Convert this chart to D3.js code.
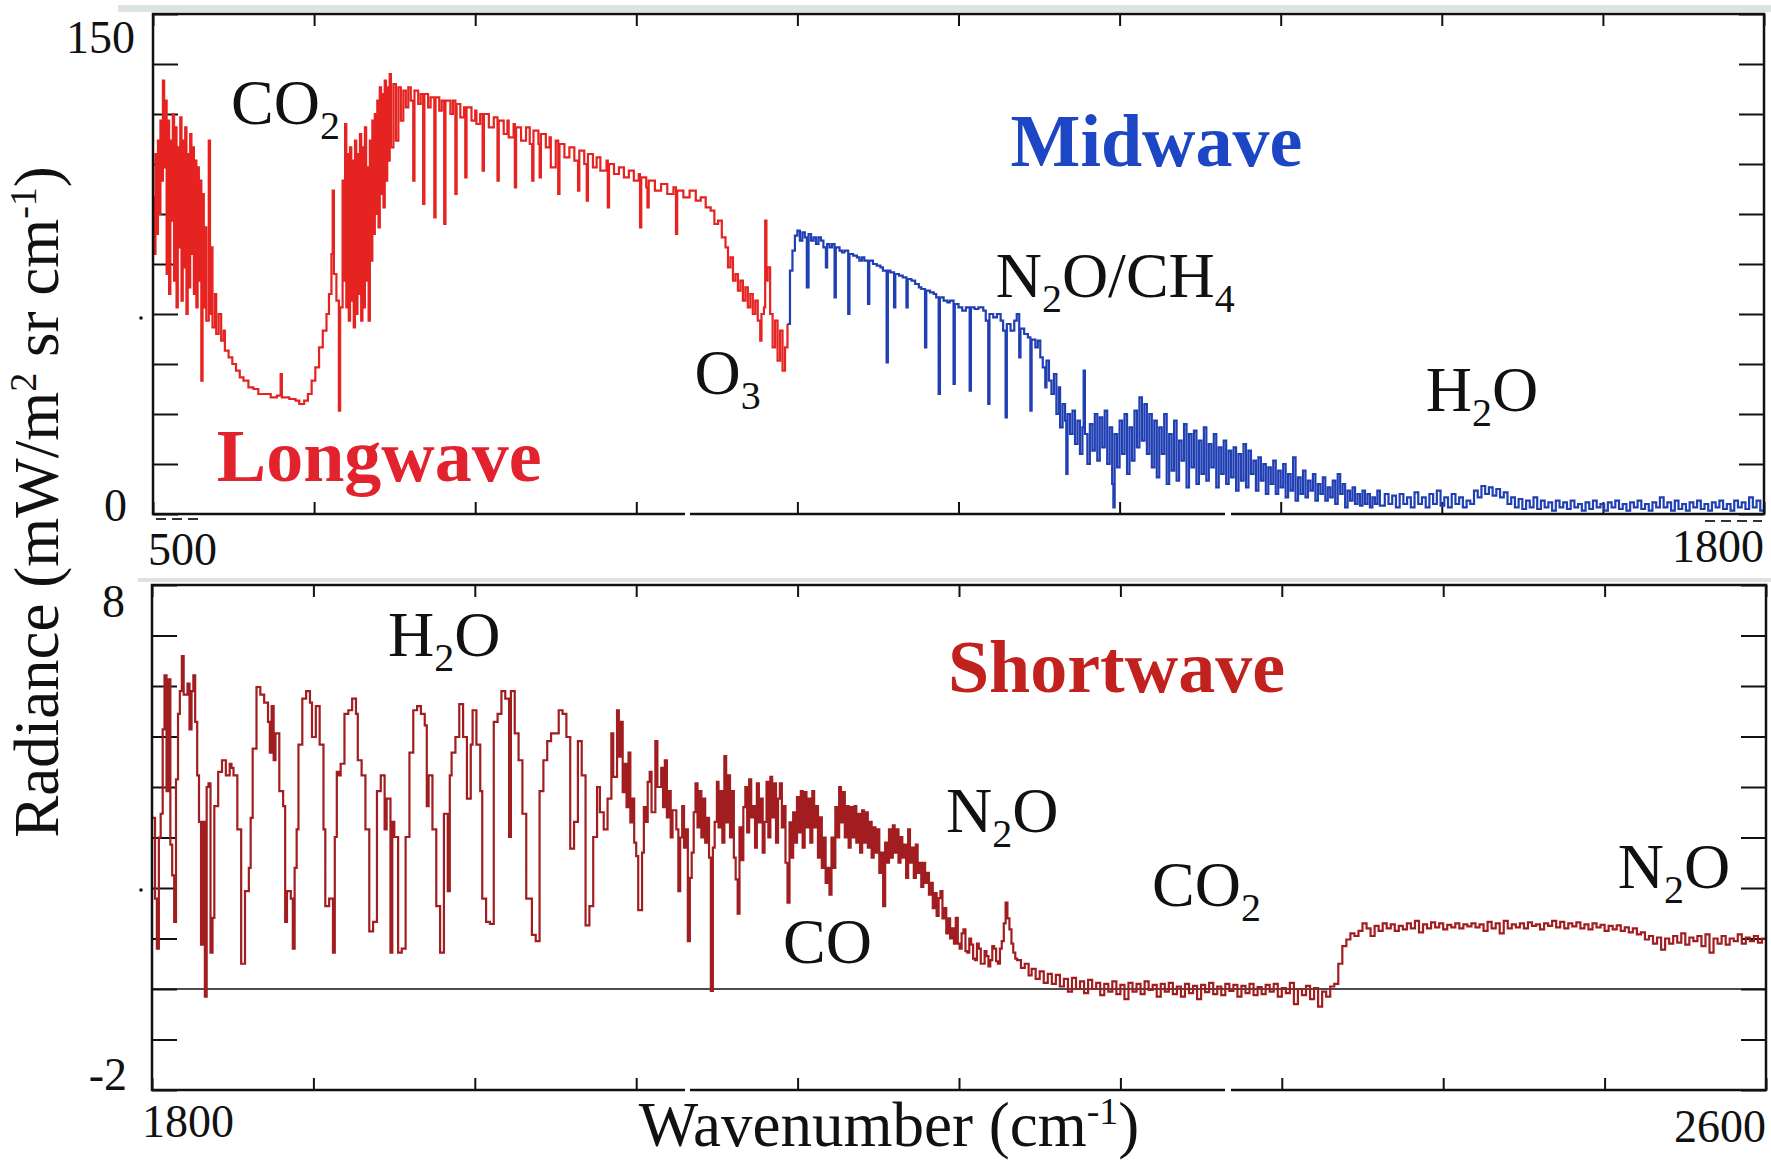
<!DOCTYPE html>
<html>
<head>
<meta charset="utf-8">
<script src="https://cdn.jsdelivr.net/npm/d3@7"></script>
<style>
  body { margin: 0; background: #fff; }
  svg { display: block; }
  text { font-family: "Liberation Serif", "Times New Roman", "DejaVu Serif", serif; }
</style>
</head>
<body>
<svg id="chart" width="1771" height="1161"></svg>
<script>
// Spectra: [wavenumber (cm-1), radiance (mW/m2 sr cm-1)]
const longwave = [
  [500,95],[501,78],[502,108],[503,84],[504,112],[505,90],[506,118],[507,100],[508,130],[509,104],[510,124],[511,72],[512,118],[513,66],
  [514,112],[515,88],[516,120],[517,70],[518,116],[519,62],[520,110],[521,80],[522,119],[523,64],[524,112],[525,74],[526,116],[527,60],
  [528,108],[529,68],[530,114],[531,78],[532,110],[533,66],[534,106],[535,62],[536,104],[537,70],[538,100],[539,40],[540,96],[541,62],
  [542,86],[543,58],[545,112],[546,60],[547,80],[548,56],[550,66],[551,54],[553,60],[555,52],[557,55],[558,49],[561,47],[564,45],
  [567,43],[570,41],[573,40],[577,38],[581,37.5],[585,36],[590,36],[595,35],[600,35.5],[603,42],[604,35],[610,34.5],[615,34],[618,33],
  [622,34],[625,36],[628,40],[631,44],[634,50],[637,55],[640,60],[642,66],[644,78],[645,97],[646,72],[648,64],[650,31],[651,62],
  [653,100],[654,70],[655,117],[656,62],[657,108],[658,58],[659,110],[660,64],[661,106],[662,56],[663,112],[664,60],[665,108],[666,66],
  [667,114],[668,58],[669,110],[670,62],[671,116],[672,70],[673,104],[674,58],[675,112],[676,76],[677,118],[678,84],[679,120],[680,90],
  [681,124],[682,86],[683,128],[684,96],[685,126],[686,92],[687,130],[688,100],[689,128],[690,106],[691,132],[692,110],[694,129],[696,112],
  [698,128],[700,118],[702,127],[704,122],[706,128],[708,124],[710,100],[711,127],[714,123],[716,126],[718,93],[719,126],[722,122],[724,125],
  [727,89],[728,125],[731,121],[733,124],[735,87],[736,124],[740,120],[742,124],[744,96],[745,123],[748,119],[751,122],[752,101],[753,122],
  [757,118],[760,121],[761,117],[764,120],[766,103],[767,120],[771,116],[775,119],[778,100],[779,118],[783,114],[786,118],[787,113],[791,117],
  [792,98],[793,116],[797,112],[801,116],[804,111],[806,100],[807,115],[811,111],[812,101],[813,114],[817,110],[820,113],[821,104],[825,112],
  [827,96],[828,111],[832,107],[836,110],[840,106],[843,97],[844,109],[848,105],[850,94],[851,108],[855,104],[858,107],[861,103],[866,106],
  [867,92],[868,105],[872,102],[876,104],[880,101],[884,103],[888,100],[892,102],[893,86],[894,101],[898,98],[899,92],[900,100],[905,97],
  [910,99],[915,96],[920,98],[922,84],[923,97],[928,95],[933,97],[938,94],[942,95],[946,92],[950,91],[953,87],[956,88],[959,83],
  [962,80],[964,74],[966,77],[968,70],[970,72],[972,67],[974,70],[976,64],[978,68],[980,62],[982,66],[984,60],[986,64],[988,58],
  [990,52],[991,60],[993,62],[994,88],[995,70],[996,74],[998,60],[1000,50],[1002,58],[1004,46],[1006,55],[1008,43],[1010,50],[1012,57]
];

const midwave = [
  [1012,57],[1014,73],[1016,79],[1018,83.5],[1020,85],[1022,82],[1024,84.5],[1026,83],[1027.6,68],[1029,84],[1031,82],[1033,83],[1035,81],
  [1037,83],[1039,82],[1041,80],[1043,74],[1044,81],[1046,80],[1048,81],[1050,65],[1051,80],[1054,79],[1056,78.5],[1058,79],[1061,60],
  [1062,78],[1065,77.5],[1068,77],[1070,76],[1072,77],[1074,76],[1077,63],[1078,76],[1081,75],[1084,74.5],[1087,74],[1089,73],[1092,45.5],
  [1093,73],[1095,72.5],[1098,62],[1099,72],[1102,71.5],[1105,71],[1108,62],[1109,70.5],[1112,70],[1115,69],[1118,68],[1120,67.5],[1123,50],
  [1124,67],[1127,66.5],[1130,66],[1132,65],[1134,36],[1135,65],[1138,64],[1141,63.5],[1143,64],[1146,39],[1147,63],[1150,62],[1153,61],
  [1156,62],[1159,37],[1160,62],[1163,61.5],[1166,62],[1170,61],[1172,58],[1174,33],[1175,60],[1178,59],[1181,60],[1184,58],[1186,55],
  [1188,29],[1189,57],[1192,55],[1195,58],[1197,60],[1199,47],[1200,55.6],[1203,54],[1206,53],[1208,31],[1209,52.3],[1212,50],[1214,52],
  [1216,47],[1218,44],[1220,38],[1221,46],[1223,40],[1225,36],[1227,42],[1229,30],[1231,38],[1232,26],[1234,33],[1236,28],[1237,12],
  [1238,30],[1240,24],[1242,31],[1244,21],[1246,28],[1248,18],[1250,26],[1251,43],[1252,24],[1254,15],[1256,27],[1258,19],[1260,30],
  [1262,16],[1264,29],[1266,20],[1268,31],[1270,15],[1272,26],[1274,9],[1275,2],[1276,24],[1278,14],[1280,28],[1282,18],[1284,30],
  [1286,12],[1288,26],[1290,16],[1292,31],[1294,20],[1296,35],[1298,22],[1300,33],[1302,18],[1304,30],[1306,14],[1308,28],[1310,11],
  [1312,26],[1314,18],[1316,30],[1318,9],[1320,24],[1322,13],[1324,28],[1326,10],[1328,22],[1330,16],[1332,27],[1334,8],[1336,24],
  [1338,14],[1340,25],[1342,9],[1344,22],[1346,12],[1348,26],[1350,10],[1352,21],[1354,14],[1356,24],[1358,8],[1360,20],[1362,12],
  [1364,22],[1366,9],[1368,19],[1370,11],[1372,20],[1374,7],[1376,18],[1378,10],[1380,21],[1382,8],[1384,19],[1386,12],[1388,16],
  [1390,7],[1392,17],[1394,10],[1396,15],[1398,6],[1400,14],[1402,9],[1404,16],[1406,6],[1408,13],[1410,8],[1412,15],[1414,5],
  [1416,12],[1418,7],[1420,17],[1422,4],[1424,11],[1426,6],[1428,13],[1430,5],[1432,10],[1434,7],[1436,12],[1438,4],[1440,9],
  [1442,6],[1444,11],[1446,4],[1448,8],[1450,5],[1452,10],[1454,3],[1456,12],[1458,6],[1460,9],[1462,2],[1464,7],[1466,4],
  [1468,8],[1470,3],[1472,6],[1474,2.5],[1476,7],[1478,3],[1480,6],[1482,2],[1484,5],[1486,3],[1488,7],[1490,2.5],[1494,6],
  [1497,3],[1500,5.5],[1503,2],[1506,6],[1509,3],[1512,5],[1515,2],[1518,6.5],[1521,3],[1524,5],[1527,2],[1530,6],[1533,3],
  [1536,7],[1539,2.5],[1542,5],[1545,2],[1548,6],[1551,3],[1554,5],[1557,2],[1560,4],[1563,3],[1566,7],[1569,5],[1572,8.4],
  [1575,6],[1578,8],[1581,5.5],[1584,7.5],[1587,5],[1590,6.5],[1593,3],[1596,5],[1599,2],[1602,4.5],[1605,1.5],[1608,4],[1611,2],
  [1614,5],[1617,1.5],[1620,4],[1623,2],[1626,3.5],[1629,1],[1632,4],[1635,2],[1638,3.5],[1641,1.5],[1644,4],[1647,2],[1650,3],
  [1653,1],[1656,3.5],[1659,1.5],[1662,4],[1665,2],[1668,3],[1671,1],[1674,3.5],[1677,2],[1680,4],[1683,1.5],[1686,3],[1689,1],
  [1692,3.5],[1695,2],[1698,4],[1701,1.5],[1704,3],[1707,1],[1710,3.5],[1713,2],[1716,5],[1719,2],[1722,3.5],[1725,1],[1728,4],
  [1731,1.5],[1734,3],[1737,1],[1740,3.5],[1743,2],[1746,4],[1749,1.5],[1752,3],[1755,1],[1758,3.5],[1761,2],[1764,4],[1767,1.5],
  [1770,3],[1773,1],[1776,4],[1779,2],[1782,3.5],[1785,1.5],[1788,5],[1791,2],[1794,4],[1797,1],[1800,3]
];

const shortwave = [
  [1800.5,3.39],[1801.5,1.79],[1802.4,0.8],[1803.4,3.0],[1804.3,3.47],[1805.3,5.14],[1806.2,6.21],[1807.2,3.92],[1808.1,6.13],[1809.1,2.86],
  [1810.0,2.25],[1811.0,1.33],[1811.9,4.15],[1812.9,5.45],[1813.8,5.9],[1814.8,6.59],[1815.7,5.83],[1817.6,6.05],[1818.6,5.14],[1819.6,5.9],
  [1820.5,6.21],[1821.4,5.29],[1822.4,4.23],[1823.3,3.31],[1824.3,0.88],[1825.2,3.31],[1826.2,-0.15],[1827.1,4.0],[1828.0,4.07],[1829.0,0.72],
  [1830.0,1.41],[1830.9,3.62],[1832.8,4.3],[1834.7,4.53],[1836.6,4.23],[1838.5,4.46],[1839.4,4.38],[1840.4,4.23],[1842.3,3.16],[1844.2,0.5],
  [1846.1,1.94],[1848.0,2.4],[1848.9,3.39],[1849.9,4.76],[1851.8,5.98],[1853.7,5.83],[1855.6,5.67],[1857.5,5.29],[1858.4,4.68],[1859.3,5.6],
  [1860.3,4.53],[1861.2,5.06],[1863.1,3.92],[1865.0,3.62],[1866.0,1.33],[1866.9,1.94],[1868.8,1.79],[1869.8,0.8],[1870.7,2.4],[1871.7,3.16],
  [1872.6,4.84],[1874.5,5.75],[1876.4,5.9],[1878.3,5.67],[1879.3,4.99],[1881.2,5.6],[1883.1,4.84],[1885.0,3.16],[1885.9,1.64],[1887.8,1.79],
  [1889.7,0.72],[1890.6,3.01],[1891.6,4.3],[1892.5,4.23],[1893.5,4.46],[1895.4,5.45],[1897.3,5.52],[1899.2,5.75],[1901.1,5.45],[1902.0,4.53],
  [1903.9,4.23],[1905.8,3.16],[1907.7,1.14],[1909.6,1.33],[1911.5,3.92],[1913.4,4.23],[1914.4,4.23],[1915.3,3.16],[1916.3,3.77],[1918.2,0.72],
  [1919.1,3.31],[1920.1,3.01],[1922.0,0.72],[1923.8,0.8],[1925.7,3.01],[1927.6,4.68],[1929.5,5.52],[1931.4,5.6],[1933.3,5.45],[1935.2,5.22],
  [1936.2,3.62],[1937.1,4.23],[1939.0,3.16],[1940.9,1.64],[1942.8,0.72],[1944.7,3.47],[1946.6,1.94],[1947.6,4.23],[1948.5,4.68],[1950.4,4.99],
  [1952.3,5.64],[1954.2,4.99],[1956.1,3.77],[1958.0,4.84],[1958.9,5.52],[1960.8,4.84],[1962.7,3.92],[1963.7,1.79],[1965.6,1.33],[1967.5,1.29],
  [1969.4,5.29],[1971.3,5.45],[1973.2,5.9],[1975.1,5.75],[1977.0,3.01],[1977.9,5.9],[1979.8,5.06],[1981.7,4.53],[1983.6,3.47],[1985.5,1.79],
  [1988.3,1.07],[1990.2,0.95],[1992.1,3.92],[1994.0,4.53],[1995.9,4.91],[1997.8,5.06],[2001.6,5.52],[2003.5,5.45],[2005.4,4.99],[2007.3,2.78],
  [2009.2,3.31],[2011.1,4.91],[2013.0,4.23],[2014.9,1.26],[2016.8,1.64],[2018.7,3.01],[2020.6,4.0],[2022.0,3.5],[2023.9,3.16],[2025.8,3.77],
  [2027.7,5.06],[2028.6,4.2],[2030.5,5.52],[2031.4,4.6],[2032.4,5.29],[2033.3,3.9],[2034.3,4.46],[2035.2,3.6],[2036.2,4.68],[2037.1,3.3],
  [2038.1,3.77],[2039.0,2.9],[2040.0,2.63],[2041.0,1.56],[2042.9,2.7],[2043.8,3.6],[2044.8,3.31],[2045.7,4.1],[2046.7,4.3],[2047.6,3.5],
  [2049.5,4.91],[2050.5,4.0],[2052.4,4.38],[2053.3,3.6],[2054.2,4.53],[2055.2,3.4],[2056.1,3.92],[2057.1,3.0],[2058.0,3.54],[2059.9,3.16],
  [2060.9,1.94],[2061.8,3.0],[2062.8,3.62],[2063.7,2.8],[2064.7,3.16],[2065.6,0.95],[2066.6,2.2],[2067.5,2.7],[2068.5,3.5],[2069.4,4.07],
  [2070.4,3.2],[2071.3,3.92],[2072.3,3.0],[2073.2,3.77],[2074.2,2.9],[2075.1,3.39],[2076.1,2.6],[2077.0,-0.04],[2078.0,2.8],[2078.9,3.31],
  [2080.0,4.1],[2080.8,3.2],[2081.8,3.92],[2082.7,2.9],[2083.7,4.61],[2084.6,3.3],[2085.6,4.23],[2086.5,3.0],[2087.4,3.92],[2088.4,2.6],
  [2089.3,2.17],[2090.3,1.49],[2091.2,3.2],[2092.2,2.55],[2093.1,3.6],[2094.1,4.0],[2095.0,3.1],[2096.0,4.15],[2097.0,3.4],[2097.9,3.62],
  [2098.9,2.8],[2099.8,4.07],[2100.8,3.3],[2101.7,3.77],[2102.7,2.7],[2103.6,3.31],[2104.6,4.1],[2105.5,3.0],[2106.5,4.2],[2107.4,3.4],
  [2108.4,4.07],[2109.3,2.9],[2110.3,3.77],[2111.2,4.07],[2112.2,3.2],[2113.1,3.62],[2114.0,2.5],[2115.0,1.71],[2116.0,3.3],[2116.9,2.6],
  [2117.8,3.5],[2118.7,2.9],[2119.7,3.8],[2120.6,3.1],[2121.6,3.92],[2122.5,2.8],[2123.5,3.9],[2124.4,3.2],[2125.4,3.77],[2126.3,2.9],
  [2127.3,3.92],[2128.2,3.2],[2129.2,3.62],[2130.1,2.6],[2131.0,3.4],[2132.0,2.4],[2133.0,3.0],[2133.9,2.1],[2134.9,2.4],[2135.8,1.87],
  [2136.8,3.0],[2137.7,2.4],[2138.7,3.6],[2139.6,3.0],[2140.6,4.0],[2141.5,3.3],[2142.5,3.9],[2143.4,3.0],[2144.4,3.62],[2145.3,2.8],
  [2146.3,3.6],[2147.2,3.0],[2148.2,3.62],[2149.1,2.9],[2150.0,3.47],[2151.0,2.7],[2152.0,3.54],[2152.9,2.9],[2153.9,3.5],[2154.8,2.8],
  [2155.8,3.31],[2156.7,2.6],[2157.7,3.2],[2158.6,2.7],[2159.6,3.16],[2160.5,2.3],[2161.5,2.7],[2162.4,1.64],[2163.4,2.9],[2164.3,2.5],
  [2165.3,3.16],[2166.2,2.6],[2167.2,3.24],[2168.1,2.7],[2169.1,3.16],[2170.0,2.5],[2171.0,3.01],[2171.9,2.6],[2172.9,2.86],[2173.8,2.2],
  [2174.8,3.16],[2175.7,2.5],[2176.7,2.8],[2177.6,2.2],[2178.6,2.86],[2179.5,2.3],[2180.4,2.5],[2181.3,2.02],[2182.3,2.5],[2183.2,2.1],
  [2184.2,2.3],[2185.1,1.87],[2186.1,2.1],[2187.0,1.6],[2188.0,1.9],[2188.9,1.45],[2189.9,1.8],[2190.8,1.94],[2191.8,1.4],[2192.7,1.6],
  [2193.7,1.1],[2194.6,1.4],[2195.6,1.0],[2196.5,1.2],[2197.5,0.9],[2198.4,1.41],[2199.4,0.9],[2200.3,0.8],[2201.3,1.1],[2202.2,1.18],
  [2203.2,0.75],[2204.1,0.72],[2205.1,1.0],[2206.0,0.88],[2207.0,0.6],[2207.9,0.57],[2208.9,0.9],[2209.8,0.8],[2210.8,0.5],[2211.7,0.5],
  [2212.7,0.75],[2213.6,0.65],[2214.6,0.45],[2215.5,0.57],[2216.5,0.85],[2217.4,0.8],[2218.4,0.55],[2219.3,0.5],[2220.3,0.8],[2221.2,0.95],
  [2222.2,1.3],[2223.1,1.71],[2224.0,1.4],[2225.0,1.18],[2226.0,0.9],[2226.9,0.72],[2227.9,0.6],[2228.8,0.57],[2230.7,0.42],[2232.6,0.5],
  [2234.5,0.27],[2236,0.4],[2238,0.2],[2240,0.35],[2242,0.12],[2244,0.3],[2246,0.1],[2248,0.28],[2250,0.05],[2252,0.2],[2254,-0.05],
  [2256,0.22],[2258,0.0],[2260,0.15],[2262,-0.08],[2264,0.18],[2266,0.0],[2268,0.12],[2270,-0.12],[2272,0.1],[2274,-0.05],[2276,0.15],
  [2278,-0.1],[2280,0.08],[2282,-0.2],[2284,0.12],[2286,-0.05],[2288,0.1],[2290,-0.1],[2292,0.15],[2294,-0.02],[2296,0.08],[2298,-0.15],
  [2300,0.1],[2302,-0.05],[2304,0.12],[2306,-0.1],[2308,0.05],[2310,-0.15],[2312,0.1],[2314,-0.08],[2316,0.06],[2318,-0.2],[2320,0.08],
  [2322,-0.06],[2324,0.12],[2326,-0.1],[2328,0.05],[2330,-0.12],[2332,0.1],[2334,-0.04],[2336,0.08],[2338,-0.15],[2340,0.06],[2342,-0.08],
  [2344,0.1],[2346,-0.12],[2348,0.04],[2350,-0.1],[2352,0.08],[2354,-0.05],[2356,0.1],[2358,-0.15],[2360,0.02],[2362,-0.08],[2364,0.12],
  [2366,-0.3],[2368,0.0],[2370,-0.12],[2372,0.06],[2374,-0.2],[2376,0.02],[2378,-0.35],[2380,-0.05],[2382,-0.15],[2384,0.05],[2386,0.1],
  [2388,0.5],[2390,0.85],[2392,0.98],[2394,1.1],[2396,1.05],[2398,1.15],[2400,1.3],[2402,1.2],[2404,1.05],[2406,1.25],[2408,1.15],
  [2410,1.3],[2412,1.2],[2414,1.28],[2416,1.15],[2418,1.25],[2420,1.18],[2422,1.3],[2424,1.2],[2426,1.35],[2428,1.12],[2430,1.28],
  [2432,1.2],[2434,1.32],[2436,1.22],[2438,1.3],[2440,1.18],[2442,1.27],[2444,1.22],[2446,1.3],[2448,1.2],[2450,1.28],[2452,1.24],
  [2454,1.3],[2456,1.22],[2458,1.28],[2460,1.15],[2462,1.33],[2464,1.2],[2466,1.3],[2468,1.1],[2470,1.35],[2472,1.2],[2474,1.28],
  [2476,1.22],[2478,1.3],[2480,1.2],[2482,1.32],[2484,1.25],[2486,1.28],[2488,1.18],[2490,1.3],[2492,1.25],[2494,1.35],[2496,1.22],
  [2498,1.33],[2500,1.2],[2502,1.3],[2504,1.24],[2506,1.32],[2508,1.2],[2510,1.28],[2512,1.18],[2514,1.3],[2516,1.22],[2518,1.27],
  [2520,1.15],[2522,1.25],[2524,1.18],[2526,1.26],[2528,1.15],[2530,1.22],[2532,1.12],[2534,1.2],[2536,1.08],[2538,1.12],[2540,0.98],
  [2542,1.05],[2544,0.9],[2546,1.02],[2548,0.78],[2550,1.0],[2552,0.9],[2554,1.05],[2556,0.92],[2558,1.1],[2560,0.88],[2562,1.02],
  [2564,0.95],[2566,1.05],[2568,0.85],[2570,1.08],[2572,0.72],[2574,1.0],[2576,0.9],[2578,1.05],[2580,0.88],[2582,1.0],[2584,0.95],
  [2586,1.08],[2588,0.9],[2590,1.02],[2592,0.95],[2594,1.05],[2596,0.92],[2598,1.0],[2600,0.98]
];

// axis ranges and the only tick labels the figure prints
const upperX = [500, 1800];
const upperY = [0, 150];
const lowerX = [1800, 2600];
const lowerY = [-2, 8];
const upperXLabels = ["500", "1800"];
const upperYLabels = ["0", "150"];
const lowerXLabels = ["1800", "2600"];
const lowerYLabels = ["-2", "8"];

const SERIF = "'Liberation Serif', 'Times New Roman', 'DejaVu Serif', serif";

const svg = d3.select("#chart").attr("font-family", SERIF);
svg.append("rect").attr("width", 1771).attr("height", 1161).attr("fill", "#fff");

// grey strip the scanner left above each frame
svg.append("rect").attr("x", 118).attr("y", 5).attr("width", 1653).attr("height", 7).attr("fill", "#dde2e2");
svg.append("rect").attr("x", 138).attr("y", 578).attr("width", 1633).attr("height", 4).attr("fill", "#dde2e2");

const tenths = d => d3.range(11).map(i => d[0] + i * (d[1] - d[0]) / 10);

function panel(box, xDomain, yDomain, id) {
  const x = d3.scaleLinear(xDomain, [box.left, box.right]);
  const y = d3.scaleLinear(yDomain, [box.bottom, box.top]);
  const g = svg.append("g");

  const clean = a => {
    a.select(".domain").remove();
    a.selectAll(".tick line").attr("stroke", "#111").attr("stroke-width", 2);
  };

  // inward ticks on all four sides
  g.append("g").attr("transform", `translate(0,${box.top})`)
    .call(d3.axisTop(x).tickValues(tenths(xDomain)).tickSize(-12).tickFormat("")).call(clean);
  g.append("g").attr("transform", `translate(0,${box.bottom})`)
    .call(d3.axisBottom(x).tickValues(tenths(xDomain)).tickSize(-12).tickFormat("")).call(clean);
  g.append("g").attr("transform", `translate(${box.left},0)`)
    .call(d3.axisLeft(y).tickValues(tenths(yDomain)).tickSize(-25).tickFormat("")).call(clean);
  g.append("g").attr("transform", `translate(${box.right},0)`)
    .call(d3.axisRight(y).tickValues(tenths(yDomain)).tickSize(-25).tickFormat("")).call(clean);

  g.append("clipPath").attr("id", id)
    .append("rect")
    .attr("x", box.left).attr("y", box.top)
    .attr("width", box.right - box.left).attr("height", box.bottom - box.top);

  return { x, y, g, box, id };
}

function trace(p, data, color) {
  const line = d3.line()
    .x(d => p.x(d[0]))
    .y(d => p.y(d[1]))
    .curve(d3.curveStepAfter);
  p.g.append("path")
    .datum(data)
    .attr("clip-path", `url(#${p.id})`)
    .attr("d", line)
    .attr("fill", "none")
    .attr("stroke", color)
    .attr("stroke-width", 2.2)
    .attr("stroke-linejoin", "miter");
}

function frame(p) {
  const b = p.box;
  p.g.append("rect")
    .attr("x", b.left).attr("y", b.top)
    .attr("width", b.right - b.left).attr("height", b.bottom - b.top)
    .attr("fill", "none").attr("stroke", "#111").attr("stroke-width", 2.5);
  // small breaks in the scanned bottom axis
  [[685, 5], [1225, 6]].forEach(([gx, gw]) => {
    p.g.append("rect").attr("x", gx).attr("y", b.bottom - 2).attr("width", gw).attr("height", 4).attr("fill", "#fff");
  });
}

// chemical formula with subscripted digits, anchored in data units
function formula(p, wn, rad, parts) {
  const t = p.g.append("text")
    .attr("x", p.x(wn)).attr("y", p.y(rad))
    .attr("font-family", SERIF)
    .attr("font-size", 64).attr("fill", "#111");
  let low = false;
  parts.forEach(s => {
    const sub = /^\d$/.test(s);
    t.append("tspan")
      .attr("font-size", sub ? 40 : 64)
      .attr("dy", sub ? 15 : (low ? -15 : 0))
      .text(s);
    low = sub;
  });
}

function bandName(p, wn, rad, name, color) {
  p.g.append("text")
    .attr("x", p.x(wn)).attr("y", p.y(rad))
    .attr("font-family", SERIF)
    .attr("font-size", 74).attr("font-weight", "bold")
    .attr("fill", color)
    .text(name);
}

function tickText(x, y, s, anchor) {
  svg.append("text")
    .attr("x", x).attr("y", y)
    .attr("text-anchor", anchor)
    .attr("font-family", SERIF)
    .attr("font-size", 46).attr("fill", "#111")
    .text(s);
}

// ---- upper panel: longwave + midwave
const upper = panel({ left: 153, right: 1764, top: 14, bottom: 514 }, upperX, upperY, "clipUpper");
trace(upper, longwave, "#e52320");
trace(upper, midwave, "#1f3fb3");
frame(upper);

formula(upper, 563, 117, ["CO", "2"]);
formula(upper, 937, 36, ["O", "3"]);
formula(upper, 1180, 65, ["N", "2", "O/CH", "4"]);
formula(upper, 1527, 31, ["H", "2", "O"]);
bandName(upper, 1192, 104.4, "Midwave", "#1c46c4");
bandName(upper, 551.5, 10, "Longwave", "#e2232e");

tickText(135, 53, upperYLabels[1], "end");
tickText(127, 521, upperYLabels[0], "end");
tickText(148, 565, upperXLabels[0], "start");
tickText(1764, 562, upperXLabels[1], "end");

// dashed scan marks under the upper frame
svg.append("line").attr("x1", 156).attr("x2", 200).attr("y1", 519).attr("y2", 519)
  .attr("stroke", "#333").attr("stroke-width", 2).attr("stroke-dasharray", "10,6");
svg.append("line").attr("x1", 1705).attr("x2", 1762).attr("y1", 521).attr("y2", 521)
  .attr("stroke", "#333").attr("stroke-width", 2).attr("stroke-dasharray", "10,6");

// ---- lower panel: shortwave
const lower = panel({ left: 152, right: 1766, top: 585, bottom: 1090 }, lowerX, lowerY, "clipLower");
lower.g.append("line")
  .attr("x1", lower.x(lowerX[0])).attr("x2", lower.x(lowerX[1]))
  .attr("y1", lower.y(0)).attr("y2", lower.y(0))
  .attr("stroke", "#111").attr("stroke-width", 1.6);
trace(lower, shortwave, "#a11d1f");
frame(lower);

formula(lower, 1917, 6.6, ["H", "2", "O"]);
formula(lower, 2193.6, 3.1, ["N", "2", "O"]);
formula(lower, 2112.8, 0.52, ["CO"]);
formula(lower, 2295.7, 1.64, ["CO", "2"]);
formula(lower, 2526.5, 2.0, ["N", "2", "O"]);
bandName(lower, 2194.5, 5.88, "Shortwave", "#c1221d");

tickText(125, 617, lowerYLabels[1], "end");
tickText(127, 1090, lowerYLabels[0], "end");
tickText(142, 1137, lowerXLabels[0], "start");
tickText(1766, 1142, lowerXLabels[1], "end");

// stray scan dots beside the left axes
svg.append("circle").attr("cx", 141).attr("cy", 318).attr("r", 1.8).attr("fill", "#111");
svg.append("circle").attr("cx", 141).attr("cy", 890).attr("r", 1.8).attr("fill", "#111");

// ---- axis titles
const xTitle = svg.append("text")
  .attr("x", 889).attr("y", 1146)
  .attr("text-anchor", "middle")
  .attr("font-family", SERIF)
  .attr("font-size", 63).attr("fill", "#111");
xTitle.append("tspan").text("Wavenumber (cm");
xTitle.append("tspan").attr("font-size", 38).attr("dy", -22).text("-1");
xTitle.append("tspan").attr("dy", 22).text(")");

const yTitle = svg.append("text")
  .attr("transform", "translate(58,502) rotate(-90)")
  .attr("text-anchor", "middle")
  .attr("font-family", SERIF)
  .attr("font-size", 63).attr("fill", "#111");
yTitle.append("tspan").text("Radiance (mW/m");
yTitle.append("tspan").attr("font-size", 38).attr("dy", -22).text("2");
yTitle.append("tspan").attr("dy", 22).text(" sr cm");
yTitle.append("tspan").attr("font-size", 38).attr("dy", -22).text("-1");
yTitle.append("tspan").attr("dy", 22).text(")");
</script>
</body>
</html>
